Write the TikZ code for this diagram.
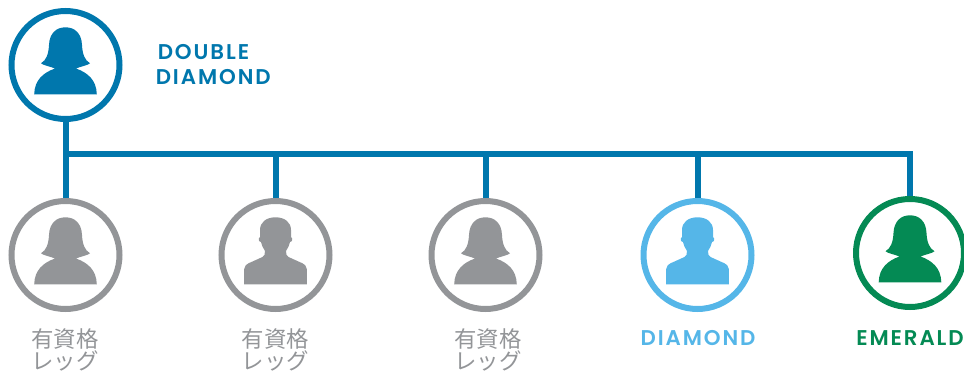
\documentclass[tikz,border=0pt]{standalone}
\usepackage{fontspec}
\setmainfont{Poppins}
\newfontfamily\rankfont[LetterSpace=9]{Poppins SemiBold}
\newfontfamily\cjkfont{Noto Sans CJK JP}
\definecolor{ddblue}{HTML}{0077AD}
\definecolor{dgblue}{HTML}{55B6E8}
\definecolor{emgreen}{HTML}{048A54}
\definecolor{leggray}{HTML}{939598}
\tikzset{
  member/.style={draw=#1, circle, line width=4.5pt, minimum size=81pt, inner sep=0pt},
  link/.style={draw=ddblue, line width=4.5pt},
  rank/.style={font=\rankfont\fontsize{16}{18.4}\selectfont, text=#1, inner sep=0pt},
  leg/.style={font=\cjkfont\fontsize{16.8}{17}\selectfont, text=leggray, align=center, inner sep=0pt},
  pics/woman/.style={code={
    \fill[#1] (-31.3,29.3) .. controls (-31,15) and (-22,7.5) .. (-10.5,3.5)
      .. controls (-15,1.5) and (-22,0.5) .. (-24.5,-1.7)
      .. controls (-19,-5) and (-17,-11) .. (-16.5,-20)
      .. controls (-16,-32) and (-9,-37.7) .. (0,-37.7)
      .. controls (9,-37.7) and (16,-32) .. (16.5,-20)
      .. controls (17,-11) and (19,-5) .. (24.5,-1.7)
      .. controls (22,0.5) and (15,1.5) .. (10.5,3.5)
      .. controls (22,7.5) and (31,15) .. (31.3,29.3) -- cycle;
  }},
  pics/man/.style={code={
    \fill[#1] (-31.3,29.3) -- (-31.3,14) .. controls (-31,11) and (-29,9) .. (-27,8.3)
      -- (-13,2) .. controls (-11,1) and (-10.5,-1) .. (-10.5,-4)
      .. controls (-12.5,-7) and (-14,-10) .. (-14.5,-13)
      .. controls (-17,-13) and (-17.5,-17) .. (-15.5,-18)
      -- (-15.5,-25) .. controls (-15.5,-33) and (-9,-37.7) .. (0,-37.7)
      .. controls (9,-37.7) and (15.5,-33) .. (15.5,-25)
      -- (15.5,-18) .. controls (17.5,-17) and (17,-13) .. (14.5,-13)
      .. controls (14,-10) and (12.5,-7) .. (10.5,-4)
      .. controls (10.5,-1) and (11,1) .. (13,2)
      -- (27,8.3) .. controls (29,9) and (31,11) .. (31.3,14) -- (31.3,29.3) -- cycle;
  }}
}
\begin{document}
\begin{tikzpicture}[x=0.75pt,y=-0.75pt]
\useasboundingbox (0,0) rectangle (964,372);
% members
\node[member=ddblue] (top) at (65.5,65) {};
\node[member=leggray] (leg1) at (65.5,255) {};
\node[member=leggray] (leg2) at (275.5,255) {};
\node[member=leggray] (leg3) at (485.5,255) {};
\node[member=dgblue] (dia) at (697.5,255) {};
\node[member=emgreen] (eme) at (910,253) {};
\pic at (top) {woman=ddblue};
\pic at (leg1) {woman=leggray};
\pic at (leg2) {man=leggray};
\pic at (leg3) {woman=leggray};
\pic at (dia) {man=dgblue};
\pic at (eme) {woman=emgreen};
% bar
\coordinate (j1) at (65.5,154);
\coordinate (j2) at (275.5,154);
\coordinate (j3) at (485.5,154);
\coordinate (j4) at (697.5,154);
\coordinate (j5) at (910,154);
\path[link] (top) -- (leg1);
\path[link] (j1) -- (j5) -- (eme);
\path[link] (j2) -- (leg2);
\path[link] (j3) -- (leg3);
\path[link] (j4) -- (dia);
% labels
\node[rank=ddblue, anchor=west, align=left] (toplabel) at (155.5,64.5) {\kern1.5pt DOUBLE\\DIAMOND};
\node[leg] (leg1label) at (65,350) {有資格\\レッグ};
\node[leg] (leg2label) at (275.5,350) {有資格\\レッグ};
\node[leg] (leg3label) at (488,350) {有資格\\レッグ};
\node[rank=dgblue] (dialabel) at (698,338.5) {DIAMOND};
\node[rank=emgreen] (emelabel) at (910,338.5) {EMERALD};
\end{tikzpicture}
\end{document}
